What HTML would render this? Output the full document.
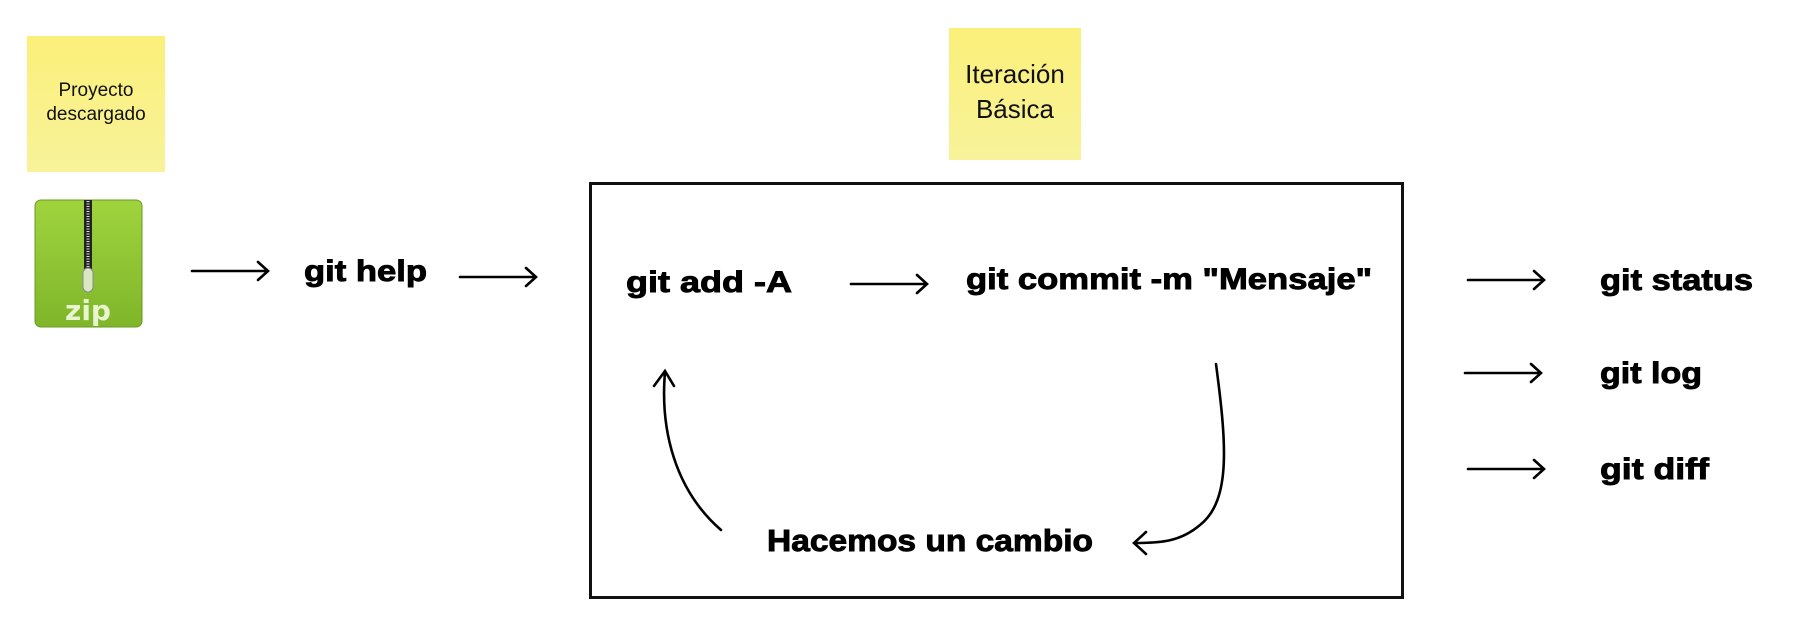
<!DOCTYPE html>
<html><head><meta charset="utf-8"><style>
html,body{margin:0;padding:0;background:#fff;}
svg{display:block;}
.b{font-family:"Liberation Sans",sans-serif;font-weight:bold;fill:#000;stroke:#000;stroke-width:0.9;}
.n{font-family:"Liberation Sans",sans-serif;fill:#111;}
</style></head><body>
<svg width="1810" height="630" viewBox="0 0 1810 630" xmlns="http://www.w3.org/2000/svg">
<defs>
<linearGradient id="g" x1="0" y1="0" x2="0" y2="1"><stop offset="0" stop-color="#9fd43e"/><stop offset="1" stop-color="#7fb62a"/></linearGradient>
<linearGradient id="y1" x1="0" y1="0" x2="0" y2="1"><stop offset="0" stop-color="#fbf07a"/><stop offset="1" stop-color="#f8f29a"/></linearGradient>
</defs>
<rect x="27" y="36" width="138" height="136" fill="url(#y1)"/>
<text class="n" x="96" y="96" font-size="19" text-anchor="middle">Proyecto</text>
<text class="n" x="96" y="120" font-size="19" text-anchor="middle">descargado</text>
<rect x="949" y="28" width="132" height="132" fill="url(#y1)"/>
<text class="n" x="1015" y="83" font-size="26" text-anchor="middle">Iteración</text>
<text class="n" x="1015" y="118" font-size="26" text-anchor="middle">Básica</text>
<rect x="35" y="200" width="107" height="127" rx="6" fill="url(#g)" stroke="#6a9a22" stroke-width="1"/>
<rect x="84" y="200" width="8" height="76" fill="#222"/>
<line x1="88" y1="201" x2="88" y2="275" stroke="#ddd" stroke-width="3" stroke-dasharray="1 1.5"/>
<rect x="83" y="268" width="10" height="24" rx="5" fill="#d9e8c0" stroke="#889" stroke-width="1"/>
<text x="88" y="320" font-family="'DejaVu Sans',sans-serif" font-weight="bold" font-size="28" fill="#e8f5d0" text-anchor="middle">zip</text>
<rect x="590.5" y="183.5" width="812" height="414" fill="none" stroke="#111" stroke-width="3"/>
<g stroke="#000" stroke-width="2.6" fill="none" stroke-linecap="round">
<path d="M192 271H268M258 262L268 271L258 280"/>
<path d="M460 277H536M526 268L536 277L526 286"/>
<path d="M851 284H927M917 275L927 284L917 293"/>
<path d="M1468 280H1544M1534 271L1544 280L1534 289"/>
<path d="M1465 373H1541M1531 364L1541 373L1531 382"/>
<path d="M1468 469H1544M1534 460L1544 469L1534 478"/>
<path d="M721 530C675 490 660 430 665 372M654 386L665 371L674 386"/>
<path d="M1216 364C1226 440 1232 500 1200 525C1180 542 1160 543 1134 543M1146 532L1134 543L1146 554"/>
</g>
<text class="b" x="304" y="281" font-size="30" textLength="123" lengthAdjust="spacingAndGlyphs">git help</text>
<text class="b" x="626" y="292" font-size="30" textLength="166" lengthAdjust="spacingAndGlyphs">git add  -A</text>
<text class="b" x="966" y="289" font-size="30" textLength="406" lengthAdjust="spacingAndGlyphs">git commit -m "Mensaje"</text>
<text class="b" x="767" y="551" font-size="31" textLength="326" lengthAdjust="spacingAndGlyphs">Hacemos un cambio</text>
<text class="b" x="1600" y="290" font-size="30" textLength="153" lengthAdjust="spacingAndGlyphs">git status</text>
<text class="b" x="1600" y="383" font-size="30" textLength="102" lengthAdjust="spacingAndGlyphs">git log</text>
<text class="b" x="1600" y="479" font-size="30" textLength="109" lengthAdjust="spacingAndGlyphs">git diff</text>
</svg>
</body></html>
